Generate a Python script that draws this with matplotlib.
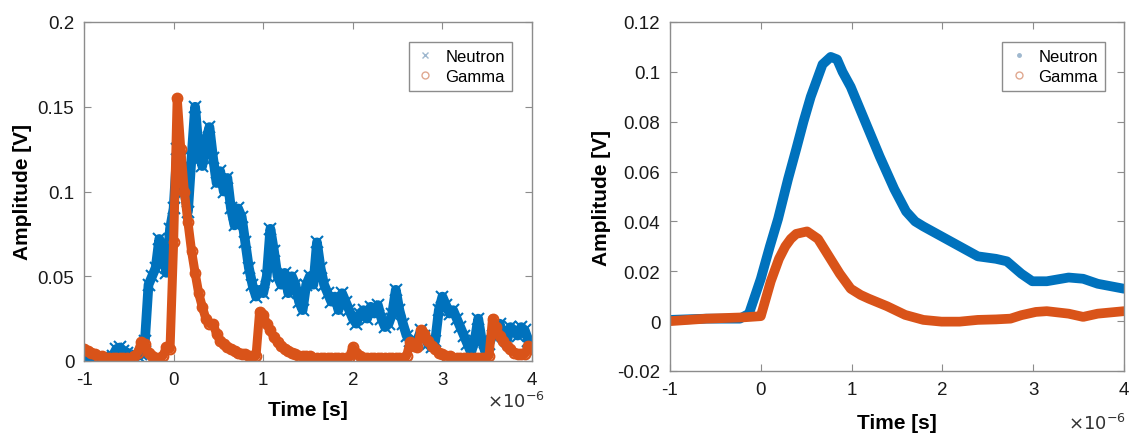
import numpy as np
import matplotlib
matplotlib.use("Agg")
import matplotlib.pyplot as plt
from matplotlib.lines import Line2D

plt.rcParams['font.family'] = ['Liberation Sans', 'DejaVu Sans']

blue = '#0072BD'
orange = '#D95319'
gray = '#8c8c8c'

# left panel: raw pulses, time in microseconds (sampled every 0.04)
t_left = np.round(np.arange(-1.0, 4.0001, 0.04), 2)

neutron_left = [
    0.002, 0.002, 0.002, 0.002, 0.002, 0.002, 0.002, 0.002, 0.003, 0.007,
    0.008, 0.006, 0.005, 0.003, 0.002, 0.003, 0.004, 0.012, 0.045, 0.05,
    0.055, 0.072, 0.065, 0.052, 0.078, 0.09, 0.125, 0.12, 0.1, 0.088,
    0.12, 0.15, 0.125, 0.115, 0.13, 0.138, 0.12, 0.105, 0.112, 0.1,
    0.108, 0.09, 0.08, 0.09, 0.085, 0.07, 0.055, 0.045, 0.038, 0.042,
    0.04, 0.05, 0.078, 0.065, 0.05, 0.045, 0.052, 0.04, 0.05, 0.045,
    0.035, 0.03, 0.045, 0.05, 0.045, 0.07, 0.055, 0.045, 0.04, 0.035,
    0.038, 0.03, 0.04, 0.035, 0.03, 0.025, 0.022, 0.028, 0.03, 0.025,
    0.032, 0.028, 0.033, 0.025, 0.02, 0.022, 0.028, 0.042, 0.03, 0.022,
    0.015, 0.012, 0.01, 0.012, 0.018, 0.015, 0.01, 0.008, 0.012, 0.03,
    0.038, 0.033, 0.028, 0.03, 0.025, 0.02, 0.015, 0.01, 0.005, 0.012,
    0.025, 0.012, 0.005, 0.01, 0.015, 0.018, 0.022, 0.015, 0.012, 0.02,
    0.018, 0.015, 0.02, 0.018, 0.012, 0.01,
]

gamma_left = [
    0.007, 0.006, 0.005, 0.004, 0.003, 0.003, 0.002, 0.002, 0.002, 0.002,
    0.002, 0.002, 0.002, 0.002, 0.003, 0.005, 0.011, 0.01, 0.005, 0.003,
    0.002, 0.002, 0.003, 0.008, 0.007, 0.07, 0.155, 0.125, 0.1, 0.082,
    0.065, 0.052, 0.04, 0.032, 0.025, 0.022, 0.022, 0.016, 0.012, 0.01,
    0.008, 0.007, 0.006, 0.005, 0.004, 0.004, 0.003, 0.003, 0.003, 0.029,
    0.027, 0.022, 0.018, 0.014, 0.011, 0.009, 0.007, 0.006, 0.005, 0.004,
    0.003, 0.003, 0.003, 0.003, 0.002, 0.002, 0.002, 0.002, 0.002, 0.002,
    0.002, 0.002, 0.002, 0.002, 0.002, 0.008, 0.005, 0.003, 0.002, 0.002,
    0.002, 0.002, 0.002, 0.002, 0.002, 0.002, 0.002, 0.002, 0.002, 0.002,
    0.003, 0.011, 0.009, 0.008, 0.018, 0.016, 0.012, 0.009, 0.007, 0.005,
    0.004, 0.003, 0.003, 0.002, 0.002, 0.002, 0.002, 0.002, 0.002, 0.002,
    0.002, 0.002, 0.002, 0.003, 0.025, 0.02, 0.015, 0.012, 0.009, 0.007,
    0.005, 0.004, 0.004, 0.004, 0.009, 0.007,
]

# right panel: averaged pulses
t_neutron_right = [-1, -0.6, -0.23, -0.13, 0, 0.1, 0.19, 0.3, 0.39, 0.47, 0.55,
                   0.62, 0.68, 0.77, 0.84, 0.9, 0.99, 1.15, 1.31, 1.47, 1.6,
                   1.7, 1.79, 1.99, 2.19, 2.39, 2.59, 2.71, 2.87, 2.99, 3.15,
                   3.39, 3.55, 3.71, 4.0]
neutron_right = [0.0005, 0.001, 0.001, 0.003, 0.017, 0.03, 0.041, 0.057, 0.069,
                 0.08, 0.09, 0.097, 0.103, 0.106, 0.105, 0.1, 0.094, 0.08,
                 0.066, 0.053, 0.044, 0.04, 0.038, 0.034, 0.030, 0.026, 0.025,
                 0.024, 0.019, 0.016, 0.016, 0.0175, 0.017, 0.015, 0.013]

t_gamma_right = [-1, -0.6, -0.2, 0, 0.11, 0.2, 0.27, 0.33, 0.39, 0.51, 0.63,
                 0.75, 0.87, 0.99, 1.1, 1.19, 1.39, 1.59, 1.79, 1.99, 2.19,
                 2.39, 2.59, 2.75, 2.87, 3.03, 3.15, 3.39, 3.55, 3.71, 4.0]
gamma_right = [0.0, 0.001, 0.0015, 0.002, 0.016, 0.025, 0.03, 0.033, 0.035,
               0.036, 0.033, 0.026, 0.019, 0.013, 0.0105, 0.009, 0.006, 0.0025,
               0.0005, -0.0002, -0.0002, 0.0005, 0.0007, 0.001, 0.0024, 0.0037,
               0.004, 0.003, 0.0017, 0.003, 0.004]

fig = plt.figure(figsize=(11.32, 4.35), dpi=100)
ax1 = fig.add_axes([84 / 1132, 1 - 362 / 435, 448 / 1132, 339 / 435])
ax2 = fig.add_axes([670 / 1132, 1 - 372 / 435, 454 / 1132, 349 / 435])


def style(ax):
    for s in ax.spines.values():
        s.set_color(gray)
        s.set_linewidth(1)
    ax.tick_params(direction='in', top=True, right=True, length=5,
                   color=gray, labelsize=13.5, labelcolor='#1a1a1a', pad=7)
    ax.set_xlim(-1, 4)
    ax.set_xticks([-1, 0, 1, 2, 3, 4])
    ax.set_xticklabels(['-1', '0', '1', '2', '3', '4'])
    ax.set_xlabel('Time [s]', fontsize=15, fontweight='bold')
    ax.set_ylabel('Amplitude [V]', fontsize=15, fontweight='bold')


# left
ax1.plot(t_left, neutron_left, color=blue, lw=7, marker='x', ms=8, mew=1.5,
         solid_joinstyle='round')
ax1.plot(t_left, gamma_left, color=orange, lw=6.5, marker='o', ms=7,
         mfc='none', mew=1.5, solid_joinstyle='round')
style(ax1)
ax1.set_ylim(0, 0.2)
ax1.set_yticks([0, 0.05, 0.1, 0.15, 0.2])
ax1.set_yticklabels(['0', '0.05', '0.1', '0.15', '0.2'])
ax1.xaxis.set_label_coords(0.5, -0.115)
ax1.yaxis.set_label_coords(-0.115, 0.5)

h1 = [Line2D([], [], ls='none', marker='x', ms=5, color='#9fb8cf', mew=1),
      Line2D([], [], ls='none', marker='o', ms=5, mfc='none',
             color='#e0a890', mew=1)]
leg1 = ax1.legend(h1, ['Neutron', 'Gamma'], loc='upper right',
                  bbox_to_anchor=(0.973, 0.965), fontsize=12, fancybox=False,
                  edgecolor=gray, framealpha=1, handlelength=1.2,
                  borderpad=0.4, labelspacing=0.3, handletextpad=0.6)
leg1.get_frame().set_linewidth(1)

fig.text(545 / 1132, 1 - 402 / 435, r'$\times10^{-6}$', fontsize=13,
         ha='right', va='center', color='#333333')

# right
ax2.plot(t_neutron_right, neutron_right, color=blue, lw=7,
         solid_capstyle='round', solid_joinstyle='round')
ax2.plot(t_gamma_right, gamma_right, color=orange, lw=7,
         solid_capstyle='round', solid_joinstyle='round')
style(ax2)
ax2.set_ylim(-0.02, 0.12)
ax2.set_yticks([-0.02, 0, 0.02, 0.04, 0.06, 0.08, 0.1, 0.12])
ax2.set_yticklabels(['-0.02', '0', '0.02', '0.04', '0.06', '0.08', '0.1',
                     '0.12'])
ax2.xaxis.set_label_coords(0.5, -0.12)
ax2.yaxis.set_label_coords(-0.13, 0.5)

h2 = [Line2D([], [], ls='none', marker='.', ms=5, color='#9fb8cf'),
      Line2D([], [], ls='none', marker='o', ms=5, mfc='none',
             color='#e0a890', mew=1)]
leg2 = ax2.legend(h2, ['Neutron', 'Gamma'], loc='upper right',
                  bbox_to_anchor=(0.976, 0.966), fontsize=12, fancybox=False,
                  edgecolor=gray, framealpha=1, handlelength=1.2,
                  borderpad=0.4, labelspacing=0.3, handletextpad=0.6)
leg2.get_frame().set_linewidth(1)

fig.text(1126 / 1132, 1 - 424 / 435, r'$\times10^{-6}$', fontsize=13,
         ha='right', va='center', color='#333333')

fig.savefig('out.png', dpi=100)
